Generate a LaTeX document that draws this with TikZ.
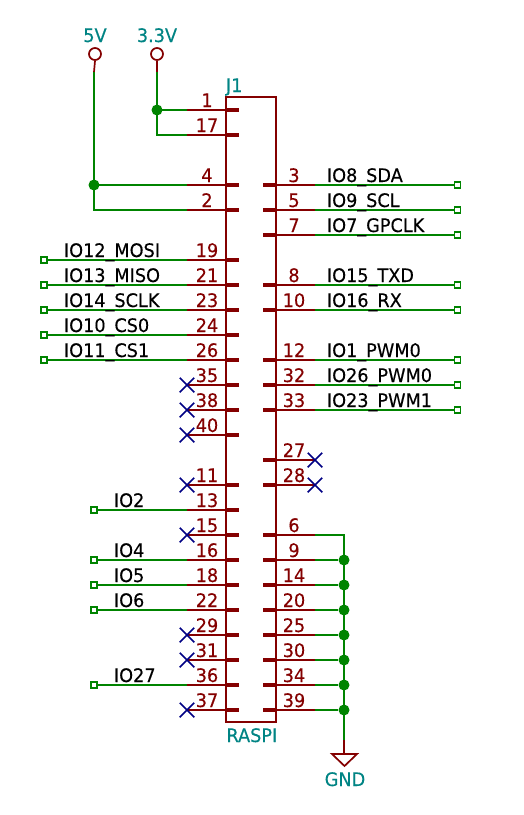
\documentclass[tikz,border=0pt]{standalone}
\usepackage{fontspec}
\setmainfont[FakeStretch=0.95,FakeBold=0.3]{DejaVu Sans}
\usetikzlibrary{shapes.misc}
\definecolor{kred}{HTML}{840000}
\definecolor{kgreen}{HTML}{008400}
\definecolor{kteal}{HTML}{008484}
\definecolor{knavy}{HTML}{000084}
\tikzset{
  x=1pt,y=-1pt,
  kfont/.style={font=\fontsize{18.6}{19}\selectfont,inner sep=0pt,outer sep=0pt},
  pinline/.style={kred,line width=1.7pt},
  stub/.style={kred,line width=4.4pt},
  body/.style={kred,line width=2pt},
  wire/.style={kgreen,line width=1.7pt},
  port/.style={draw=kgreen,line width=1.1pt,fill=none,rectangle,minimum size=6pt,inner sep=0pt},
  junc/.style={circle,fill=kgreen,minimum size=11pt,inner sep=0pt},
  num/.style={kfont,text=kred,anchor=base},
  netlbl/.style={kfont,text=black,anchor=base west},
  reftxt/.style={kfont,text=kteal},
  ncx/.style={cross out,draw=knavy,line width=1.5pt,minimum size=13pt,inner sep=0pt},
  pwr/.style={circle,draw=kred,line width=1.7pt,minimum size=12pt,inner sep=0pt},
}
\begin{document}
\begin{tikzpicture}
\useasboundingbox[fill=white] (0,0) rectangle (523,815);
% left pins
\foreach \n/\y in {1/110,17/135,4/185,2/210,19/260,21/285,23/310,24/335,26/360,35/385,38/410,40/435,11/485,13/510,15/535,16/560,18/585,22/610,29/635,31/660,36/685,37/710}{
  \coordinate (L\n) at (226,\y);
  \coordinate (LE\n) at (187,\y);
  \draw[pinline] (LE\n) -- (L\n);
  \draw[stub] (L\n) -- ++(13,0);
  \node[num] (nL\n) at (207,\y-3) {\n};
}
% right pins
\foreach \n/\y in {3/185,5/210,7/235,8/285,10/310,12/360,32/385,33/410,27/460,28/485,6/535,9/560,14/585,20/610,25/635,30/660,34/685,39/710}{
  \coordinate (R\n) at (276,\y);
  \coordinate (RE\n) at (315,\y);
  \draw[pinline] (R\n) -- (RE\n);
  \draw[stub] (R\n) -- ++(-13,0);
  \node[num] (nR\n) at (294,\y-3) {\n};
}
% body
\node[reftxt,anchor=base west] (ref) at (226,92) {J1};
\node[reftxt,anchor=base west] (val) at (226.5,742) {RASPI};
\draw[body] (226,97) rectangle (276,722);
% right signals
\foreach \n/\y/\t in {3/185/IO8\_SDA,5/210/IO9\_SCL,7/235/IO7\_GPCLK,8/285/IO15\_TXD,10/310/IO16\_RX,12/360/IO1\_PWM0,32/385/IO26\_PWM0,33/410/IO23\_PWM1}{
  \node[port] (pR\n) at (457.5,\y) {};
  \draw[wire] (RE\n) -- (pR\n);
  \node[netlbl] (tR\n) at (327,\y-3) {\t};
}
% left signals, far column
\foreach \n/\y/\t in {19/260/IO12\_MOSI,21/285/IO13\_MISO,23/310/IO14\_SCLK,24/335/IO10\_CS0,26/360/IO11\_CS1}{
  \node[port] (pL\n) at (44,\y) {};
  \draw[wire] (pL\n) -- (LE\n);
  \node[netlbl] (tL\n) at (64,\y-3) {\t};
}
% left signals, near column
\foreach \n/\y/\t in {13/510/IO2,16/560/IO4,18/585/IO5,22/610/IO6,36/685/IO27}{
  \node[port] (pL\n) at (94,\y) {};
  \draw[wire] (pL\n) -- (LE\n);
  \node[netlbl] (tL\n) at (114,\y-3) {\t};
}
% no-connects
\foreach \n in {35,38,40,11,15,29,31,37}{
  \node[ncx] (x\n) at (LE\n) {};
}
\foreach \n in {27,28}{
  \node[ncx] (x\n) at (RE\n) {};
}
% power
\node[pwr] (p5) at (95,54) {};
\node[pwr] (p33) at (157,54) {};
\node[reftxt,anchor=base] (t5) at (95,42) {5V};
\node[reftxt,anchor=base] (t33) at (157,42) {3.3V};
\coordinate (w5) at (94,72);
\coordinate (w33) at (157,72);
\draw[pinline] (p5.south) -- (w5);
\draw[pinline] (p33.south) -- (w33);
\node[junc] (j33) at (157,110) {};
\node[junc] (j5) at (94,185) {};
\draw[wire] (w33) -- (j33.center) -- (LE1);
\draw[wire] (j33.center) |- (LE17);
\draw[wire] (w5) -- (j5.center) -- (LE4);
\draw[wire] (j5.center) |- (LE2);
% ground
\coordinate (gt) at (344,740);
\coordinate (gb) at (344,754);
\draw[wire] (RE6) -| (gt);
\foreach \n/\y in {9/560,14/585,20/610,25/635,30/660,34/685,39/710}{
  \node[junc] (jg\n) at (344,\y) {};
  \draw[wire] (RE\n) -- (jg\n);
}
\draw[pinline] (gt) -- (gb);
\draw[pinline,line join=miter] (332,754) -- (357,754) -- (344.5,766) -- cycle;
\node[reftxt,anchor=base] (tg) at (345,786) {GND};
\end{tikzpicture}
\end{document}
